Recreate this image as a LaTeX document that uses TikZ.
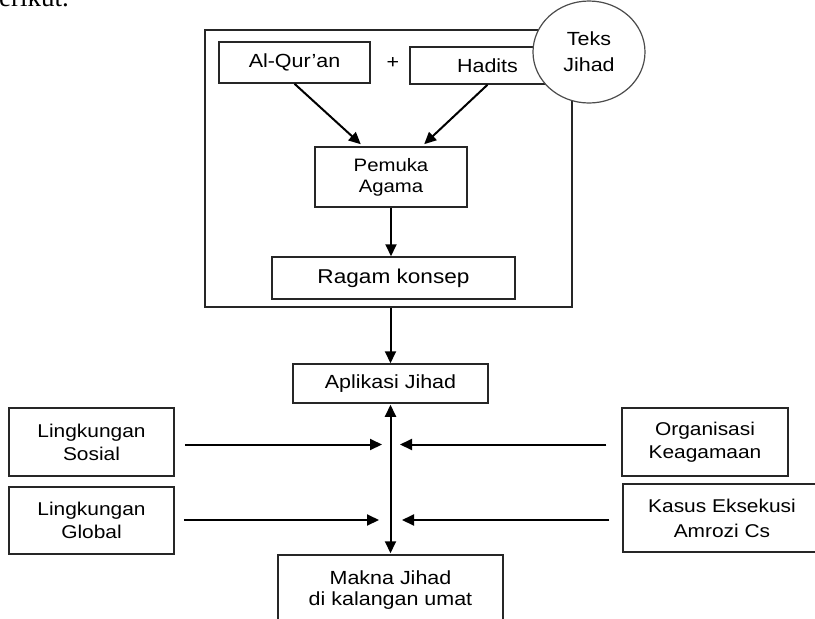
\documentclass[tikz,border=0pt]{standalone}
\usepackage{fontspec}
\newfontfamily\arialf[FakeStretch=1.13]{Liberation Sans}
\newfontfamily\seriff{Liberation Serif}
\usetikzlibrary{arrows.meta,shapes.geometric}
\begin{document}
\begin{tikzpicture}[x=1pt,y=-1pt,
  box/.style={draw=black!85, line width=1.5pt, fill=white, align=center, inner sep=0pt,
    text=black, font=\arialf\fontsize{19}{23}\selectfont},
  sbox/.style={box, font=\arialf\fontsize{18.5}{23}\selectfont},
  arr/.style={draw=black, line width=2pt, -{Triangle[length=12pt,width=11pt]}},
  darr/.style={draw=black, line width=2pt, {Triangle[length=12pt,width=11pt]}-{Triangle[length=12pt,width=11pt]}}]
\clip (0,0) rectangle (815,619);
\fill[white] (0,0) rectangle (815,619);
\node[anchor=base east, inner sep=0pt, font=\seriff\fontsize{27}{30}\selectfont] (intro) at (69,6) {berikut.};
% outer frame
\node[box, fill=none, minimum width=367, minimum height=277] (outer) at (388.5,168.5) {};
\node[box, minimum width=151, minimum height=41] (alq) at (294.5,62.5) {Al-Qur’an};
\node[inner sep=0pt, font=\arialf\fontsize{19}{23}\selectfont] (plus) at (393,63) {+};
\node[box, minimum width=155, minimum height=37] (hadits) at (487.5,65.5) {Hadits};
\node[box, ellipse, draw=black!70, line width=1.2pt, minimum width=112, minimum height=102,
  font=\arialf\fontsize{19}{26}\selectfont] (teks) at (589,52) {Teks\\Jihad};
\node[box, minimum width=152, minimum height=60, font=\arialf\fontsize{18}{21}\selectfont] (pemuka) at (391,177) {Pemuka\\Agama};
\node[box, minimum width=243, minimum height=42, font=\arialf\fontsize{20}{23}\selectfont] (ragam) at (393.5,278) {Ragam konsep};
\node[box, minimum width=195, minimum height=39] (aplikasi) at (390.5,383.5) {Aplikasi Jihad};
\node[sbox, minimum width=165, minimum height=68] (sosial) at (91.5,442) {Lingkungan\\Sosial};
\node[sbox, minimum width=165, minimum height=67] (global) at (91.5,520.5) {Lingkungan\\Global};
\node[sbox, minimum width=166, minimum height=68] (organisasi) at (705,442) {Organisasi\\Keagamaan};
\node[sbox, minimum width=198, minimum height=68, font=\arialf\fontsize{18.5}{25}\selectfont] (kasus) at (722,518) {Kasus Eksekusi\\Amrozi Cs};
\node[box, minimum width=225, minimum height=70, font=\arialf\fontsize{19}{21}\selectfont] (makna) at (390.5,590) {Makna Jihad\\di kalangan umat};
% junction coordinates
\coordinate (s1) at (382,444.5);
\coordinate (o1) at (400,444.5);
\coordinate (g1) at (379,520);
\coordinate (k1) at (402,520);
% connectors
\draw[arr, shorten >=3pt] (alq.south) -- ([xshift=-28pt]pemuka.north);
\draw[arr, shorten >=3pt] (hadits.south) -- ([xshift=31pt]pemuka.north);
\draw[arr] (pemuka.south) -- (pemuka.south |- ragam.north);
\draw[arr] (aplikasi.north |- outer.south) -- (aplikasi.north);
\draw[darr, shorten <=1pt, shorten >=1pt] (aplikasi.south) -- (aplikasi.south |- makna.north);
\draw[arr] ([xshift=10pt]sosial.east |- s1) -- (s1);
\draw[arr] ([xshift=9pt]global.east |- g1) -- (g1);
\draw[arr] ([xshift=-15pt]organisasi.west |- o1) -- (o1);
\draw[arr] ([xshift=-13pt]kasus.west |- k1) -- (k1);
\end{tikzpicture}
\end{document}
